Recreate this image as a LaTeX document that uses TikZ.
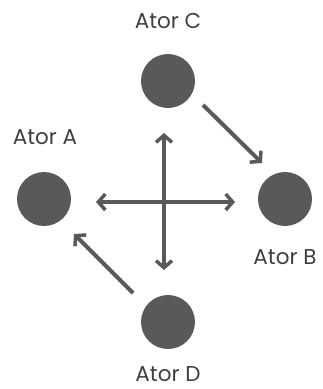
\documentclass[tikz,border=0pt]{standalone}
\usepackage{fontspec}
\setmainfont{Poppins}
\usetikzlibrary{arrows.meta}
\definecolor{ink}{HTML}{58595B}
\definecolor{txt}{HTML}{404040}
\begin{document}
\begin{tikzpicture}[x=1pt,y=-1pt,
  actor/.style={circle,fill=ink,minimum size=54pt,inner sep=0pt},
  lbl/.style={text=txt,font=\fontsize{21.5}{24}\selectfont,inner sep=0pt,anchor=base},
  conn/.style={draw=ink,line width=4pt,-{Straight Barb[length=7pt,width=16pt,line width=3.5pt]}},
  conn2/.style={draw=ink,line width=4pt,{Straight Barb[length=7pt,width=16pt,line width=3.5pt]}-{Straight Barb[length=7pt,width=16pt,line width=3.5pt]}}]
\useasboundingbox (0,0) rectangle (322,389);
\node[actor] (C) at (168,81) {};
\node[actor] (A) at (44,199) {};
\node[actor] (B) at (285,199) {};
\node[actor] (D) at (168,322) {};
\node[lbl] (lC) at (168,28) {Ator C};
\node[lbl] (lA) at (45,144) {Ator A};
\node[lbl] (lB) at (285,264) {Ator B};
\node[lbl] (lD) at (168,381) {Ator D};
\coordinate (t) at (164,133);
\coordinate (b) at (164,270);
\coordinate (l) at (96,202);
\coordinate (r) at (235,202);
\coordinate (cb1) at (203,105);
\coordinate (cb2) at (262,163);
\coordinate (da1) at (133,293);
\coordinate (da2) at (74,234);
\draw[conn2] (t) -- (b);
\draw[conn2] (l) -- (r);
\draw[conn] (cb1) -- (cb2);
\draw[conn] (da1) -- (da2);
\end{tikzpicture}
\end{document}
